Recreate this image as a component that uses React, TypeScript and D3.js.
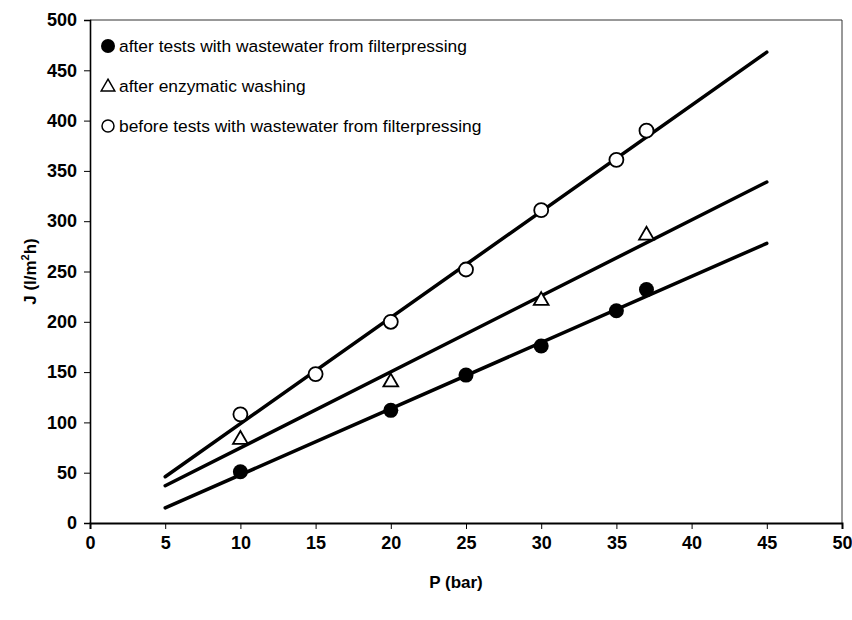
import React, { useEffect, useRef } from 'react'
import * as d3 from 'd3'

const pressures = [10, 15, 20, 25, 30, 35, 37]
const afterTestsP = [10, 20, 25, 30, 35, 37]
const afterTestsJ = [51, 112, 147, 176, 211, 232]
const enzymaticP = [10, 20, 30, 37]
const enzymaticJ = [83, 140, 221, 286]
const beforeTestsJ = [108, 148, 200, 252, 311, 361, 390]

// straight trend lines, drawn from P=5 to P=45
const fitP = [5, 45]
const afterTestsFit = [15, 278]
const enzymaticFit = [37, 339]
const beforeTestsFit = [46, 468]

const legendLabels = [
  'after tests with wastewater from filterpressing',
  'after enzymatic washing',
  'before tests with wastewater from filterpressing',
]
const xTicks = [0, 5, 10, 15, 20, 25, 30, 35, 40, 45, 50]
const yTicks = [0, 50, 100, 150, 200, 250, 300, 350, 400, 450, 500]

const W = 852
const H = 620
const font = 'Arial, "Liberation Sans", Helvetica, sans-serif'
const narrow = '"Liberation Sans Narrow", "Arial Narrow", Arial, sans-serif'

export default function App() {
  const ref = useRef<SVGSVGElement>(null)

  useEffect(() => {
    const svg = d3.select(ref.current)
    svg.selectAll('*').remove()

    const left = 90, right = 842, top = 20, bottom = 523
    const x = d3.scaleLinear().domain([0, 50]).range([left, right])
    const y = d3.scaleLinear().domain([0, 500]).range([bottom, top])

    // frame: thin top and right edges
    svg.append('path')
      .attr('d', `M${left},${top}H${right}V${bottom}`)
      .attr('fill', 'none')
      .attr('stroke', '#333')
      .attr('stroke-width', 1)

    // y axis
    const ya = svg.append('g')
      .attr('transform', `translate(${left},0)`)
      .call(d3.axisLeft(y).tickValues(yTicks).tickSize(6).tickPadding(7))
    ya.select('.domain').attr('stroke', '#000').attr('stroke-width', 1.6)
    ya.selectAll('.tick line').attr('stroke', '#000').attr('stroke-width', 1)
    ya.selectAll('.tick text')
      .attr('font-family', narrow)
      .attr('font-size', 18)
      .attr('font-weight', 'bold')
      .attr('fill', '#000')

    // x axis
    const xa = svg.append('g')
      .attr('transform', `translate(0,${bottom})`)
      .call(d3.axisBottom(x).tickValues(xTicks).tickSize(6).tickPadding(7))
    xa.select('.domain').attr('stroke', '#000').attr('stroke-width', 2)
    xa.selectAll('.tick line').attr('stroke', '#000').attr('stroke-width', 1)
    xa.selectAll('.tick text')
      .attr('font-family', narrow)
      .attr('font-size', 18)
      .attr('font-weight', 'bold')
      .attr('fill', '#000')

    // axis titles
    svg.append('text')
      .attr('x', (left + right) / 2 - 10)
      .attr('y', 588)
      .attr('text-anchor', 'middle')
      .attr('font-family', font)
      .attr('font-size', 17)
      .attr('font-weight', 'bold')
      .text('P (bar)')

    const yt = svg.append('text')
      .attr('transform', `translate(36,${(top + bottom) / 2}) rotate(-90)`)
      .attr('text-anchor', 'middle')
      .attr('font-family', font)
      .attr('font-size', 17)
      .attr('font-weight', 'bold')
    yt.append('tspan').text('J (l/m')
    yt.append('tspan').attr('font-size', 11).attr('dy', -7).text('2')
    yt.append('tspan').attr('dy', 7).text('h)')

    // trend lines
    const line = d3.line<[number, number]>()
      .x(d => x(d[0]))
      .y(d => y(d[1]))
    ;[afterTestsFit, enzymaticFit, beforeTestsFit].forEach(fit => {
      svg.append('path')
        .datum(fitP.map((p, i) => [p, fit[i]] as [number, number]))
        .attr('d', line)
        .attr('fill', 'none')
        .attr('stroke', '#000')
        .attr('stroke-width', 3.5)
        .attr('stroke-linecap', 'round')
    })

    const tri = d3.symbol().type(d3.symbolTriangle).size(95)

    // before tests: open circles
    svg.append('g').selectAll('circle')
      .data(pressures.map((p, i) => [p, beforeTestsJ[i]]))
      .enter()
      .append('circle')
      .attr('cx', d => x(d[0]))
      .attr('cy', d => y(d[1]))
      .attr('r', 7)
      .attr('fill', '#fff')
      .attr('stroke', '#000')
      .attr('stroke-width', 1.8)

    // enzymatic washing: open triangles
    svg.append('g').selectAll('path')
      .data(enzymaticP.map((p, i) => [p, enzymaticJ[i]]))
      .enter()
      .append('path')
      .attr('d', tri)
      .attr('transform', d => `translate(${x(d[0])},${y(d[1])})`)
      .attr('fill', '#fff')
      .attr('stroke', '#000')
      .attr('stroke-width', 1.8)

    // after tests: filled circles
    svg.append('g').selectAll('circle')
      .data(afterTestsP.map((p, i) => [p, afterTestsJ[i]]))
      .enter()
      .append('circle')
      .attr('cx', d => x(d[0]))
      .attr('cy', d => y(d[1]))
      .attr('r', 7.5)
      .attr('fill', '#000')

    // legend
    const lg = svg.append('g')
    legendLabels.forEach((label, i) => {
      const cy = 46 + i * 40
      if (i === 0) {
        lg.append('circle').attr('cx', 108).attr('cy', cy).attr('r', 7).attr('fill', '#000')
      } else if (i === 1) {
        lg.append('path')
          .attr('d', d3.symbol().type(d3.symbolTriangle).size(80)())
          .attr('transform', `translate(108,${cy + 1})`)
          .attr('fill', 'none')
          .attr('stroke', '#000')
          .attr('stroke-width', 1.5)
      } else {
        lg.append('circle').attr('cx', 108).attr('cy', cy).attr('r', 6)
          .attr('fill', 'none').attr('stroke', '#000').attr('stroke-width', 1.5)
      }
      lg.append('text')
        .attr('x', 119)
        .attr('y', cy + 6)
        .attr('font-family', font)
        .attr('font-size', 17.4)
        .attr('fill', '#000')
        .text(label)
    })
  }, [])

  return (
    <svg
      ref={ref}
      width={W}
      height={H}
      style={{ position: 'absolute', left: 0, top: 0, display: 'block', background: '#fff', overflow: 'visible' }}
    />
  )
}
